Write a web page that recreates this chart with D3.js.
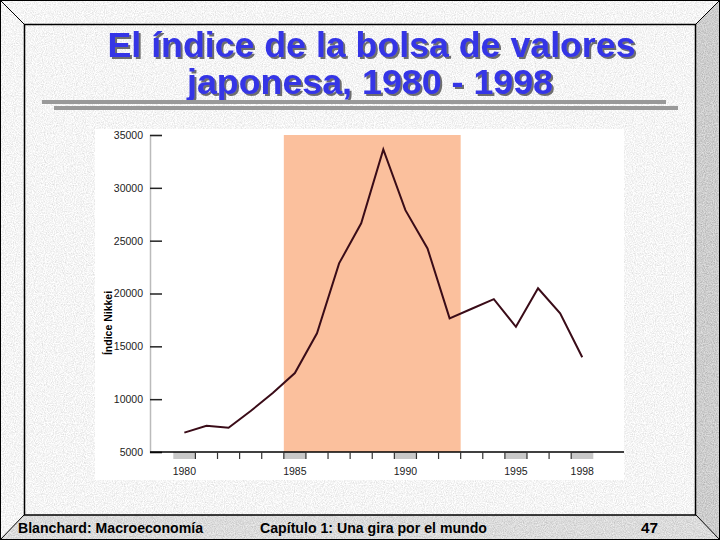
<!DOCTYPE html>
<html><head><meta charset="utf-8">
<script src="https://cdn.jsdelivr.net/npm/d3@7"></script>
<style>html,body{margin:0;padding:0;background:#fff;}svg{display:block;}</style>
</head><body>
<script>
// ---- data ----
const years = [1980,1981,1982,1983,1984,1985,1986,1987,1988,1989,1990,1991,1992,1993,1994,1995,1996,1997,1998];
const nikkei = [6830,7490,7300,8880,10580,12470,16230,22850,26640,33640,27890,24270,17650,18560,19470,16850,20490,18120,13960];
const yTicks = [5000,10000,15000,20000,25000,30000,35000];
const labeledYears = [1980,1985,1990,1995,1998];
const shadeStart = 1985, shadeEnd = 1992;
const titleLines = ["El índice de la bolsa de valores","japonesa, 1980 - 1998"];
const yLabel = "Índice Nikkei";
const footer = ["Blanchard: Macroeconomía","Capítulo 1: Una gira por el mundo","47"];

const W = 720, H = 540;
const svg = d3.select("body").append("svg").attr("width",W).attr("height",H);
const defs = svg.append("defs");

function noiseFilter(id, offset, amp, seed){
  const f = defs.append("filter").attr("id",id).attr("filterUnits","userSpaceOnUse")
    .attr("x",0).attr("y",0).attr("width",W).attr("height",H);
  f.append("feTurbulence").attr("type","fractalNoise").attr("baseFrequency",0.9).attr("numOctaves",2).attr("seed",seed).attr("result","n");
  const v = `${amp} 0 0 0 ${offset}  ${amp} 0 0 0 ${offset}  ${amp} 0 0 0 ${offset}  0 0 0 0 1`;
  f.append("feColorMatrix").attr("in","n").attr("type","matrix").attr("values",v).attr("result","g");
  f.append("feComposite").attr("in","g").attr("in2","SourceGraphic").attr("operator","in");
}
noiseFilter("nLight", 0.66, 0.5, 3);
noiseFilter("nRight", 0.36, 0.5, 5);
noiseFilter("nBottom", 0.46, 0.5, 7);

const sh = defs.append("filter").attr("id","tshadow").attr("x","-5%").attr("y","-10%").attr("width","110%").attr("height","130%");
sh.append("feDropShadow").attr("dx",2).attr("dy",2).attr("stdDeviation",0.4).attr("flood-color","#555").attr("flood-opacity",0.85);

// slide background & bevels
svg.append("rect").attr("x",0).attr("y",0).attr("width",W).attr("height",H).attr("fill","#e6e6e6").attr("filter","url(#nLight)");
svg.append("polygon").attr("points","696,24 720,0 720,540 696,515").attr("fill","#999").attr("filter","url(#nRight)");
svg.append("polygon").attr("points","24,515 696,515 720,540 0,540").attr("fill","#b0b0b0").attr("filter","url(#nBottom)");
const frame = svg.append("g").attr("stroke","#000").attr("fill","none");
frame.append("rect").attr("x",0.5).attr("y",0.5).attr("width",W-1).attr("height",H-1).attr("stroke-width",1);
frame.append("rect").attr("x",24.5).attr("y",24.5).attr("width",671).attr("height",490.5).attr("stroke-width",1.5);
[[0,0,24,24],[720,0,696,24],[0,540,24,515],[720,540,696,515]].forEach(d=>{
  frame.append("line").attr("x1",d[0]).attr("y1",d[1]).attr("x2",d[2]).attr("y2",d[3]).attr("stroke-width",1);
});

// title
const tf = "'Liberation Sans Narrow','Arial Narrow','Liberation Sans',Arial,sans-serif";
const tPos = [{x:107.5,y:57,w:528},{x:187,y:94,w:366}];
titleLines.forEach((t,i)=>{
  const p = tPos[i];
  svg.append("text").attr("x",p.x).attr("y",p.y).attr("textLength",p.w).attr("lengthAdjust","spacingAndGlyphs")
    .attr("font-family",tf).attr("font-weight","bold").attr("font-size",35).attr("fill","#3434e6")
    .attr("filter","url(#tshadow)").text(t);
});
svg.append("rect").attr("x",42).attr("y",100).attr("width",624).attr("height",4).attr("fill","#999");
svg.append("rect").attr("x",54).attr("y",106).attr("width",624).attr("height",4).attr("fill","#999");

// chart panel
svg.append("rect").attr("x",95).attr("y",129).attr("width",529).attr("height",351).attr("fill","#fff");

const x = d3.scaleBand().domain(years).range([173.3,593.3]).padding(0);
const y = d3.scaleLinear().domain([5000,35000]).range([452,135]);

// shaded period
svg.append("rect").attr("x",x(shadeStart)).attr("y",y(35000))
  .attr("width",x(shadeEnd)+x.bandwidth()-x(shadeStart)).attr("height",y(5000)-y(35000)).attr("fill","#fbc09d");

// y axis
const yAxis = svg.append("g").attr("transform","translate(150,0)")
  .call(d3.axisRight(y).tickValues(yTicks).tickSize(12).tickFormat(d3.format("d")));
yAxis.select(".domain").attr("stroke","#bbb").attr("stroke-width",1.5);
yAxis.selectAll(".tick line").attr("stroke","#222").attr("stroke-width",1.5);
yAxis.selectAll(".tick text").attr("x",-7).attr("text-anchor","end")
  .attr("font-family","'Liberation Sans',Arial,sans-serif").attr("font-size",10.5).attr("fill","#222");

// x axis gray boxes for labeled years
svg.selectAll("rect.ybox").data(labeledYears).join("rect").attr("class","ybox")
  .attr("x",d=>x(d)).attr("y",452).attr("width",x.bandwidth()).attr("height",7).attr("fill","#c8c8c8");
// x axis line and ticks at band boundaries
svg.append("line").attr("x1",150).attr("x2",624).attr("y1",452).attr("y2",452).attr("stroke","#000").attr("stroke-width",1.5);
svg.selectAll("line.xt").data(years.slice(1)).join("line").attr("class","xt")
  .attr("x1",d=>x(d)).attr("x2",d=>x(d)).attr("y1",452).attr("y2",459).attr("stroke","#333").attr("stroke-width",1.2);
svg.selectAll("text.xl").data(labeledYears).join("text").attr("class","xl")
  .attr("x",d=>x(d)+x.bandwidth()/2).attr("y",475).attr("text-anchor","middle")
  .attr("font-family","'Liberation Sans',Arial,sans-serif").attr("font-size",10.5).attr("fill","#222").text(d=>d);

// y label
svg.append("text").attr("transform","translate(112,323) rotate(-90)").attr("text-anchor","middle")
  .attr("font-family","'Liberation Sans',Arial,sans-serif").attr("font-weight","bold").attr("font-size",10.5)
  .attr("fill","#000").text(yLabel);

// line
const line = d3.line().x((d,i)=>x(years[i])+x.bandwidth()/2).y(d=>y(d));
svg.append("path").datum(nikkei).attr("d",line).attr("fill","none").attr("stroke","#3a0c18").attr("stroke-width",2).attr("stroke-linejoin","miter");

// footer
const ff = "'Liberation Sans Narrow','Arial Narrow','Liberation Sans',Arial,sans-serif";
const fPos = [{x:18,w:185},{x:260,w:227},{x:641,w:17}];
footer.forEach((t,i)=>{
  svg.append("text").attr("x",fPos[i].x).attr("y",533).attr("textLength",fPos[i].w).attr("lengthAdjust","spacingAndGlyphs")
    .attr("font-family",ff).attr("font-weight","bold").attr("font-size",14).attr("fill","#000").text(t);
});
</script>
</body></html>
